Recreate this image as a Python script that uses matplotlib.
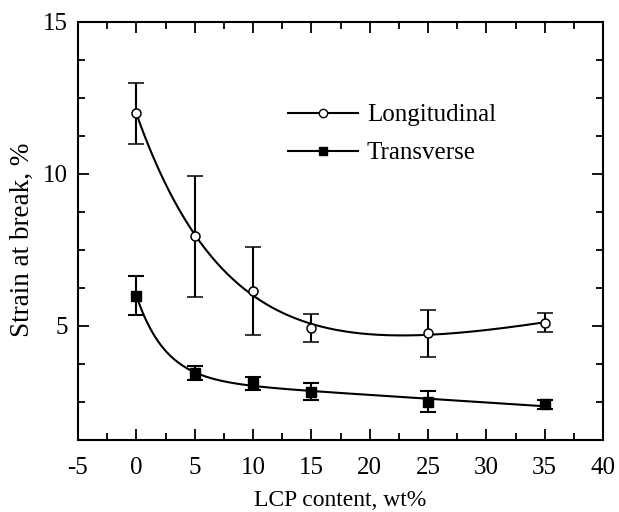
import numpy as np
import matplotlib
matplotlib.use("Agg")
import matplotlib.pyplot as plt
from matplotlib.lines import Line2D
from matplotlib.ticker import MultipleLocator

plt.rcParams["font.family"] = ["Liberation Serif", "DejaVu Serif"]

lcp = [0, 5, 10, 15, 25, 35]
long_strain = [12.0, 7.95, 6.15, 4.94, 4.76, 5.11]
long_err = [1.0, 2.0, 1.45, 0.45, 0.78, 0.32]
trans_strain = [6.0, 3.46, 3.11, 2.84, 2.51, 2.42]
trans_err = [0.65, 0.23, 0.2, 0.27, 0.34, 0.16]
x_ticks = [-5, 0, 5, 10, 15, 20, 25, 30, 35, 40]
y_ticks = [5, 10, 15]


def trend(x, y, xs):
    """Least-squares fit of A*exp(-x/tau) + B + C*x, tau chosen by grid search."""
    x = np.asarray(x, float)
    y = np.asarray(y, float)
    best = None
    for tau in np.linspace(1.0, 15.0, 281):
        M = np.column_stack([np.exp(-x / tau), np.ones_like(x), x])
        coef, *_ = np.linalg.lstsq(M, y, rcond=None)
        r = np.sum((M @ coef - y) ** 2)
        if best is None or r < best[0]:
            best = (r, tau, coef)
    _, tau, coef = best
    return coef[0] * np.exp(-xs / tau) + coef[1] + coef[2] * xs


fig = plt.figure(figsize=(6.19, 5.12), dpi=100)
ax = fig.add_axes([78 / 619, 72 / 512, 525 / 619, 418 / 512])

xs = np.linspace(0, 35, 300)
ax.plot(xs, trend(lcp, long_strain, xs), color="black", lw=1.5, zorder=2)
ax.plot(xs, trend(lcp, trans_strain, xs), color="black", lw=1.5, zorder=2)

ax.errorbar(lcp, long_strain, yerr=long_err, fmt="o", ms=6.5, mfc="white",
            mec="black", mew=1.1, ecolor="black", elinewidth=1.5,
            capsize=6, capthick=1.5, zorder=3)
ax.errorbar(lcp, trans_strain, yerr=trans_err, fmt="s", ms=6.5, mfc="black",
            mec="black", ecolor="black", elinewidth=1.5,
            capsize=6, capthick=1.5, zorder=3)

ax.set_xlim(-5, 40)
ax.set_ylim(1.25, 15)
ax.set_xticks(x_ticks)
ax.set_xticklabels([str(t) for t in x_ticks])
ax.set_yticks(y_ticks)
ax.set_yticklabels([str(t) for t in y_ticks])
ax.xaxis.set_minor_locator(MultipleLocator(2.5))
ax.yaxis.set_minor_locator(MultipleLocator(1.25))
ax.tick_params(which="both", direction="in", top=True, right=True,
               width=1.3, labelsize=18)
ax.tick_params(axis="x", which="major", pad=12)
ax.tick_params(axis="y", which="major", pad=7)
ax.tick_params(which="major", length=8)
ax.tick_params(which="minor", length=5)
for s in ax.spines.values():
    s.set_linewidth(1.5)

ax.set_xlabel("LCP content, wt%", fontsize=17)
ax.xaxis.set_label_coords(0.5, -0.12)
ax.set_ylabel("Strain at break, %", fontsize=19.5)
ax.yaxis.set_label_coords(-0.082, 0.48)

handles = [
    Line2D([], [], color="black", lw=1.5, marker="o", ms=6, mfc="white",
           mec="black"),
    Line2D([], [], color="black", lw=1.5, marker="s", ms=6, mfc="black"),
]
ax.legend(handles, ["Longitudinal", "Transverse"], loc="upper left",
          bbox_to_anchor=(0.40, 0.804), frameon=False, fontsize=18,
          handlelength=2.8, handletextpad=0.35, labelspacing=0.62,
          borderpad=0, borderaxespad=0)

fig.savefig("out.png", dpi=100)
